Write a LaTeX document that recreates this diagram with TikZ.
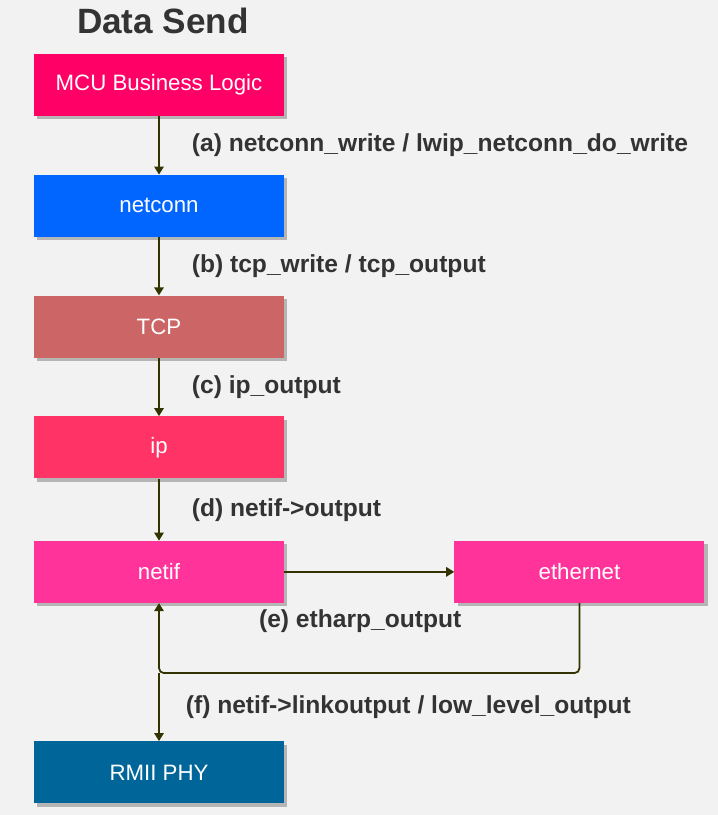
\documentclass[tikz,border=0pt]{standalone}
\usepackage{fontspec}
\setmainfont{Liberation Sans}
\usetikzlibrary{arrows.meta,positioning,shadows}
\definecolor{bggray}{RGB}{242,242,242}
\definecolor{linkolive}{RGB}{51,51,0}
\definecolor{mcupink}{RGB}{255,0,102}
\definecolor{connblue}{RGB}{0,102,255}
\definecolor{tcprose}{RGB}{204,102,102}
\definecolor{iprose}{RGB}{255,51,102}
\definecolor{netifpink}{RGB}{255,51,153}
\definecolor{phyblue}{RGB}{0,102,153}
\definecolor{titlegray}{RGB}{51,51,51}

\begin{document}
\begin{tikzpicture}[
    node distance=1.75cm and 5.1cm,
    layer/.style={minimum width=7.5cm, minimum height=1.86cm, align=center, text=white,
      font=\fontsize{19}{22}\selectfont,
      drop shadow={shadow xshift=0.1cm, shadow yshift=-0.1cm, opacity=0.25, fill=black}},
    call/.style={font=\bfseries\fontsize{21}{24}\selectfont, text=titlegray, inner sep=0pt},
    link/.style={-{Triangle[length=2.4mm, width=2.8mm]}, line width=1.5pt, linkolive}
  ]
    \fill[bggray] (0,0) rectangle (21.54,-24.45);
    \useasboundingbox (0,0) rectangle (21.54,-24.45);
    \node[font=\bfseries\fontsize{30}{34}\selectfont, text=titlegray] (title) at (4.89,-0.62) {Data Send};
    \node[layer, fill=mcupink] (mcu) at (4.77,-2.55) {MCU Business Logic};
    \node[layer, below=of mcu, fill=connblue] (netconn) {netconn};
    \node[layer, below=of netconn, fill=tcprose] (tcp) {TCP};
    \node[layer, below=of tcp, fill=iprose] (ip) {ip};
    \node[layer, below=1.86cm of ip, fill=netifpink] (netif) {netif};
    \node[layer, right=of netif, fill=netifpink] (ethernet) {ethernet};
    \node[layer, below=4.14cm of netif, fill=phyblue] (phy) {RMII PHY};
    \coordinate[below=2.1cm of ethernet.south] (turn);
    \coordinate (joint) at (netif.south |- turn);
    \draw[link] (mcu) -- node[call, right=0.96cm] {(a) netconn\_write / lwip\_netconn\_do\_write} (netconn);
    \draw[link] (netconn) -- node[call, right=0.96cm] {(b) tcp\_write / tcp\_output} (tcp);
    \draw[link] (tcp) -- node[call, right=0.96cm] {(c) ip\_output} (ip);
    \draw[link] (ip) -- node[call, right=0.96cm] {(d) netif->output} (netif);
    \draw[link] (netif) -- node[call, below=1.12cm, xshift=-0.27cm] {(e) etharp\_output} (ethernet);
    \draw[link, rounded corners=0.15cm] (ethernet.south) -- (turn) -- (joint) -- (netif.south);
    \draw[link] (joint) -- node[call, right=0.78cm] {(f) netif->linkoutput / low\_level\_output} (phy);
  \end{tikzpicture}
\end{document}
